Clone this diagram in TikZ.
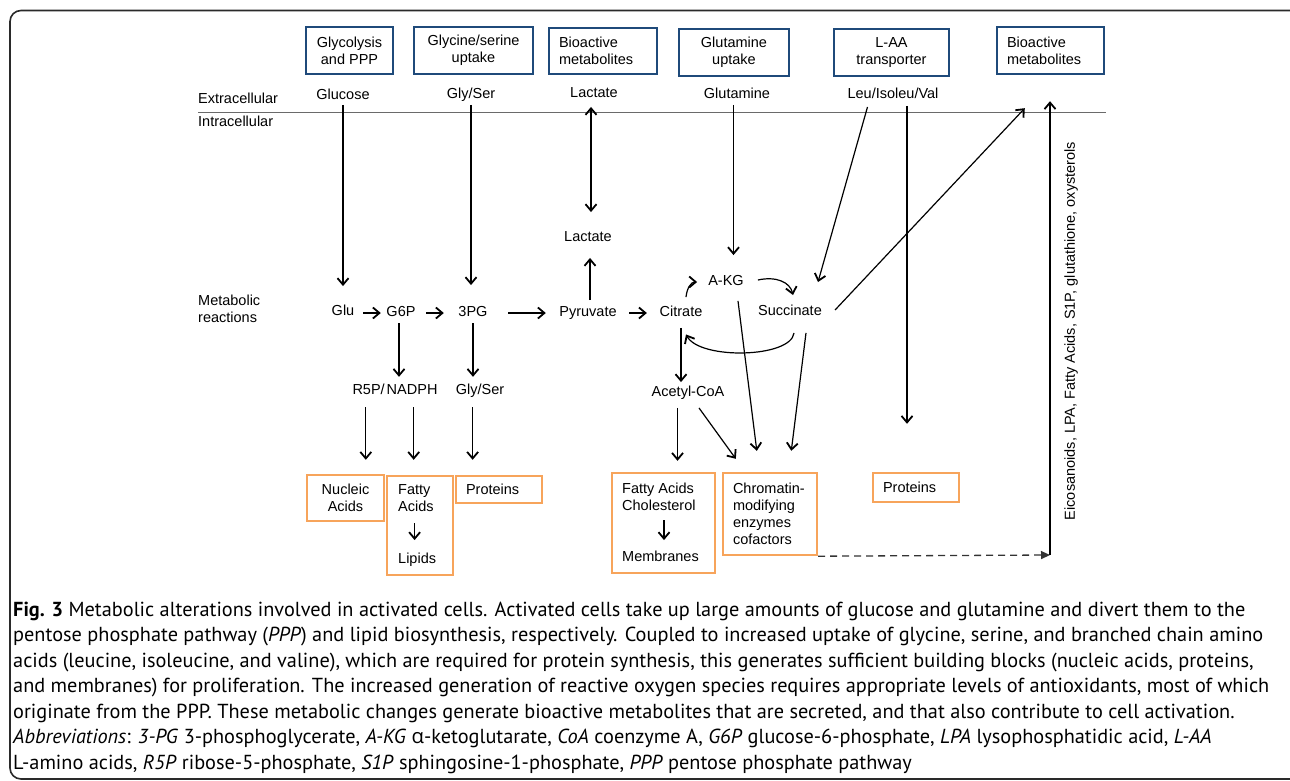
\documentclass[tikz,border=0pt]{standalone}
\usepackage{fontspec}
\setmainfont{Liberation Sans}
\newfontfamily\capfont{PT Sans}
\newfontfamily\greekfont{Open Sans}
\usetikzlibrary{arrows.meta,calc}
\definecolor{boxblue}{HTML}{1F4A7A}
\definecolor{boxorange}{HTML}{F7A45B}
\definecolor{framegray}{HTML}{2A2A2A}
\definecolor{membgray}{HTML}{6A6A6A}
\begin{document}
\begin{tikzpicture}[x=1pt,y=-1pt,
  every node/.style={font=\fontsize{14.5}{17}\selectfont},
  lbl/.style={inner sep=0pt, text height=10.5pt, text depth=3pt},
  mlbl/.style={inner sep=0pt, align=left},
  bbox/.style={draw=boxblue, line width=2.4pt, inner sep=0pt, align=center},
  lbox/.style={bbox, align=left, inner xsep=10pt, text width=#1},
  obox/.style={draw=boxorange, line width=2.4pt, inner sep=0pt},
  conn/.style={line width=1.2pt, -{Straight Barb[length=6.5pt,width=11pt,line width=1.8pt]}},
  biconn/.style={line width=1.2pt, {Straight Barb[length=6.5pt,width=11pt,line width=1.8pt]}-{Straight Barb[length=6.5pt,width=11pt,line width=1.8pt]}},
  dconn/.style={line width=1.3pt, draw=black!80, dash pattern=on 7pt off 5pt, -{Triangle[length=9pt,width=8pt]}},
  memb/.style={line width=1pt, draw=membgray},
  captxt/.style={inner sep=0pt, anchor=base west, font=\capfont\fontsize{20.3}{24}\selectfont},
]
\useasboundingbox (0,0) rectangle (1290,780);
\fill[white] (0,0) rectangle (1290,780);
% frame
\draw[framegray, line width=1.6pt, rounded corners=11pt] (10,10.5) rectangle (1302,779);

% top boxes
\node[bbox, minimum width=87pt, minimum height=47pt] (b1) at (349.5,50.5) {Glycolysis\\and PPP};
\node[bbox, minimum width=119pt, minimum height=47pt] (b2) at (473.5,50.5) {Glycine/serine\\uptake};
\node[lbox=88pt, minimum height=46pt] (b3) at (603,51) {Bioactive\\metabolites};
\node[bbox, minimum width=110pt, minimum height=47pt] (b4) at (734,52.5) {Glutamine\\uptake};
\node[bbox, minimum width=115pt, minimum height=47pt] (b5) at (891.5,52.5) {L-AA\\transporter};
\node[lbox=87pt, minimum height=47pt] (b6) at (1050.5,50.5) {Bioactive\\metabolites};

% membrane
\coordinate (memL) at (198,112);
\coordinate (memR) at (1106,112);
\draw[memb] (memL) -- (memR);

% labels
\node[lbl, anchor=west] (ext) at (198,100) {Extracellular};
\node[lbl, anchor=west] (intra) at (198,123) {Intracellular};
\node[mlbl, anchor=west] (metab) at (198,308.5) {Metabolic\\reactions};
\node[lbl] (glucose) at (343,96) {Glucose};
\node[lbl] (glyser) at (471,95) {Gly/Ser};
\node[lbl] (lactop) at (594,94) {Lactate};
\node[lbl] (glutamine) at (737,95) {Glutamine};
\node[lbl] (leu) at (893,95) {Leu/Isoleu/Val};
\node[lbl] (glu) at (343,312) {Glu};
\node[lbl] (g6p) at (401,313) {G6P};
\node[lbl] (pg) at (473,313) {3PG};
\node[lbl] (pyr) at (588,313) {Pyruvate};
\node[lbl] (cit) at (681,313) {Citrate};
\node[lbl] (akg) at (726,282) {A-KG};
\node[lbl] (succ) at (790,312) {Succinate};
\node[lbl] (lacmid) at (588,238) {Lactate};
\node[lbl] (r5p) at (395,391) {R5P/\hspace{2pt}NADPH};
\node[lbl] (gsl) at (480,391) {Gly/Ser};
\node[lbl] (acoa) at (688,393) {Acetyl-CoA};

% orange boxes
\node[obox, minimum width=77pt, minimum height=46pt, align=center] (o1) at (345.5,498) {Nucleic\\Acids};
\node[obox, minimum width=66pt, minimum height=99pt] (o2) at (420,525.5) {};
\node[mlbl, anchor=west] (fa1) at (398,498.5) {Fatty\\Acids};
\node[lbl, anchor=west] (lip) at (398,560) {Lipids};
\node[obox, minimum width=86pt, minimum height=27pt, text width=66pt, inner xsep=10pt, align=left] (o3) at (499,489.5) {Proteins};
\node[obox, minimum width=103pt, minimum height=100pt] (o4) at (663.5,523) {};
\node[mlbl, anchor=west] (fa2) at (622,497) {Fatty Acids\\Cholesterol};
\node[lbl, anchor=west] (mem) at (622,558) {Membranes};
\node[obox, minimum width=94pt, minimum height=82pt, text width=74pt, inner xsep=10pt, align=left] (o5) at (770,514) {Chromatin-\\modifying\\enzymes\\cofactors};
\node[obox, minimum width=86pt, minimum height=29pt, text width=66pt, inner xsep=10pt, align=left] (o6) at (916,487.5) {Proteins};

% vertical label
\node[lbl, rotate=90] (vtext) at (1071,331) {Eicosanoids, LPA, Fatty Acids, S1P, glutathione, oxysterols};

% connectors
\draw[conn, shorten <=2pt, shorten >=19pt] (glucose.south) -- (glucose.south |- glu.north);
\draw[conn, shorten <=3pt, shorten >=21pt] (glyser.south) -- (glyser.south |- pg.north);
\coordinate (lacx) at ($(lactop.south)+(-3,0)$);
\draw[biconn, shorten <=6pt, shorten >=19pt] (lacx) -- (lacx |- lacmid.north);
\coordinate (pyrx) at ($(pyr.north)+(2,0)$);
\draw[conn, shorten <=6pt, shorten >=13pt] (pyrx) -- (pyrx |- lacmid.south);
\draw[conn, shorten <=9pt, shorten >=5.5pt] (glu.east |- g6p.west) -- (g6p.west);
\draw[conn, shorten <=10.5pt, shorten >=14.5pt] (g6p.east) -- (pg.west);
\draw[conn, shorten <=20.5pt, shorten >=13.4pt] (pg.east) -- (pyr.west);
\draw[conn, shorten <=12.4pt, shorten >=12.6pt] (pyr.east) -- (cit.west);
\draw[conn] ($(cit.north)+(5,-9)$) .. controls (687,288) and (691,282) .. ($(akg.west)+(-11,0)$);
\draw[conn] ($(akg.east)+(14,-2)$) .. controls (776,276) and (790,282) .. ($(succ.north)+(3,-10)$);
\draw[conn] ($(succ.south)+(4,14)$) .. controls (791,358) and (700,360) .. ($(cit.south)+(5,14.5)$);
\draw[conn, shorten <=8pt, shorten >=4pt] (cit.south) -- (cit.south |- acoa.north);
\coordinate (glnx) at ($(glutamine.south)+(-3.5,0)$);
\draw[conn, shorten <=3pt, shorten >=20pt] (glnx) -- (glnx |- akg.north);
\draw[conn] ($(leu.south)+(-25.5,5)$) -- ($(succ.north)+(28,-23)$);
\coordinate (leuv) at ($(leu.south)+(14,4)$);
\draw[conn, shorten >=48pt] (leuv) -- (leuv |- o6.north);
\draw[conn] ($(succ.east)+(13,-2)$) -- ($(b6.south west)+(29,33)$);
\coordinate (corner) at (1050,555);
\draw[dconn] (o5.south east) -- (corner);
\draw[conn, shorten >=26pt] (corner) -- (corner |- b6.south);

\coordinate (g6px) at ($(g6p.south)+(-2,0)$);
\draw[conn, shorten <=3.25pt, shorten >=7.25pt] (g6px) -- (g6px |- r5p.north);
\draw[conn, shorten <=3.25pt, shorten >=7.25pt] (pg.south) -- (pg.south |- gsl.north);
\coordinate (r5pL) at ($(r5p.south west)+(13.5,0)$);
\coordinate (r5pR) at ($(r5p.south east)+(-24,0)$);
\coordinate (gslx) at ($(gsl.south west)+(17,0)$);
\coordinate (acoax) at ($(acoa.south west)+(26,0)$);
\draw[conn, shorten <=9.25pt, shorten >=14pt] (r5pL) -- (r5pL |- o1.north);
\draw[conn, shorten <=9.25pt, shorten >=15pt] (r5pR) -- (r5pR |- o2.north);
\draw[conn, shorten <=9.25pt, shorten >=15pt] (gslx) -- (gslx |- o3.north);
\draw[conn, shorten <=8pt, shorten >=11pt] (acoax) -- (acoax |- o4.north);
\draw[conn] ($(acoa.south)+(11,8)$) -- ($(o5.north west)+(14,-13)$);
\draw[conn] ($(akg.south)+(12,12)$) -- ($(o5.north west)+(35,-21)$);
\draw[conn] ($(succ.south)+(16,14)$) -- ($(o5.north west)+(69.5,-21)$);
\draw[conn] ($(fa1.south west)+(16.6,11)$) -- ($(lip.north west)+(16.6,-13)$);
\draw[conn] ($(fa2.south west)+(42,9)$) -- ($(mem.north west)+(42,-11)$);

% caption
\node[captxt] (c1) at (13,616) {\textbf{Fig. 3} Metabolic alterations involved in activated cells. Activated cells take up large amounts of glucose and glutamine and divert them to the};
\node[captxt] (c2) at (13,641.5) {pentose phosphate pathway (\textit{PPP}) and lipid biosynthesis, respectively. Coupled to increased uptake of glycine, serine, and branched chain amino};
\node[captxt] (c3) at (13,667) {acids (leucine, isoleucine, and valine), which are required for protein synthesis, this generates sufficient building blocks (nucleic acids, proteins,};
\node[captxt] (c4) at (13,692.5) {and membranes) for proliferation. The increased generation of reactive oxygen species requires appropriate levels of antioxidants, most of which};
\node[captxt] (c5) at (13,718) {originate from the PPP. These metabolic changes generate bioactive metabolites that are secreted, and that also contribute to cell activation.};
\node[captxt] (c6) at (13,743.5) {\textit{Abbreviations}: \textit{3-PG} 3-phosphoglycerate, \textit{A-KG} {\greekfont α}-ketoglutarate, \textit{CoA} coenzyme A, \textit{G6P} glucose-6-phosphate, \textit{LPA} lysophosphatidic acid, \textit{L-AA}};
\node[captxt] (c7) at (13,769) {L-amino acids, \textit{R5P} ribose-5-phosphate, \textit{S1P} sphingosine-1-phosphate, \textit{PPP} pentose phosphate pathway};
\end{tikzpicture}
\end{document}
